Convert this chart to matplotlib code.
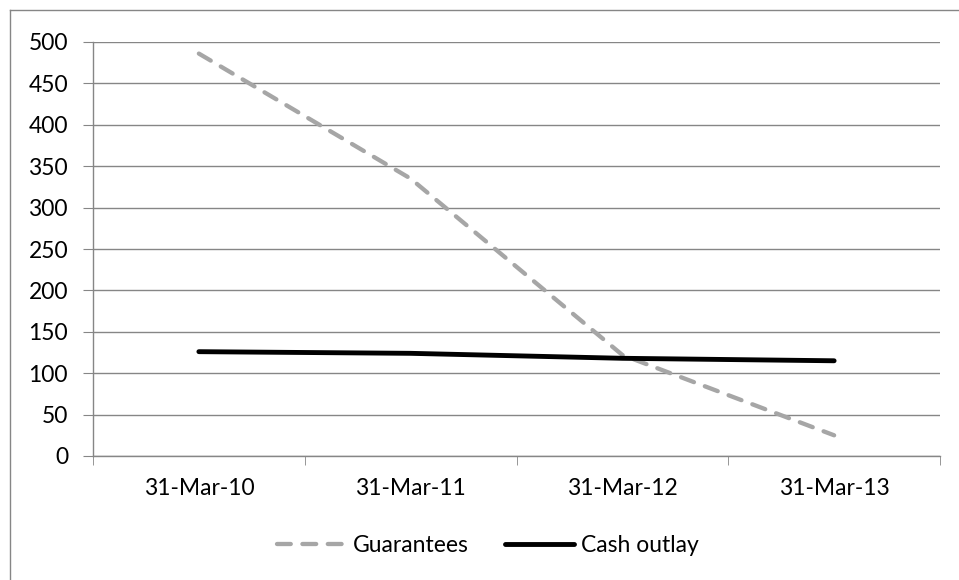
import matplotlib
matplotlib.use("Agg")
import matplotlib.pyplot as plt
from matplotlib.lines import Line2D

# Chart data
dates = ["31-Mar-10", "31-Mar-11", "31-Mar-12", "31-Mar-13"]
guarantees = [486, 335, 122, 25]
cash_outlay = [126, 124, 118, 115]
y_ticks = [0, 50, 100, 150, 200, 250, 300, 350, 400, 450, 500]

plt.rcParams["font.family"] = ["Lato", "DejaVu Sans"]
plt.rcParams["font.size"] = 16.5

grid_col = "#868686"

fig = plt.figure(figsize=(9.59, 5.8), dpi=100)
ax = fig.add_axes([93 / 959, 1 - 456 / 580, 847 / 959, 414 / 580])

x = list(range(len(dates)))

# Guarantees as a thick grey dashed line, cash outlay as a thick black line
ax.plot(x, guarantees, color="#A6A6A6", linewidth=3.1, linestyle=(0, (3.2, 2.7)),
        dash_capstyle="round", solid_capstyle="round", label="Guarantees", zorder=3)
ax.plot(x, cash_outlay, color="black", linewidth=3.5, solid_capstyle="round",
        label="Cash outlay", zorder=4)

ax.set_xlim(-0.5, len(dates) - 0.5)
ax.set_ylim(0, 500)
ax.set_yticks(y_ticks)
ax.set_xticks(x)
ax.set_xticklabels(dates)
ax.set_xticks([i - 0.5 for i in range(len(dates) + 1)], minor=True)

ax.yaxis.grid(True, color=grid_col, linewidth=1.0)
ax.set_axisbelow(True)

for side in ["top", "right"]:
    ax.spines[side].set_visible(False)
for side in ["left", "bottom"]:
    ax.spines[side].set_color(grid_col)
    ax.spines[side].set_linewidth(1.0)

ax.tick_params(axis="y", length=7, color=grid_col, pad=11)
ax.tick_params(axis="x", which="major", length=0, pad=16)
ax.tick_params(axis="x", which="minor", length=6.5, color=grid_col)

# Legend below the plot area
leg = fig.legend(loc="center", bbox_to_anchor=(488 / 959, 1 - 546 / 580), ncol=2,
                 frameon=False, handlelength=3.0, handletextpad=0.3,
                 columnspacing=1.6)

# Outer chart border (left and top edges visible)
fig.add_artist(Line2D([10 / 959, 10 / 959], [0, 1 - 10 / 580], transform=fig.transFigure,
                      color=grid_col, linewidth=1.0))
fig.add_artist(Line2D([10 / 959, 1], [1 - 10 / 580, 1 - 10 / 580], transform=fig.transFigure,
                      color=grid_col, linewidth=1.0))

fig.savefig("out.png", dpi=100)
